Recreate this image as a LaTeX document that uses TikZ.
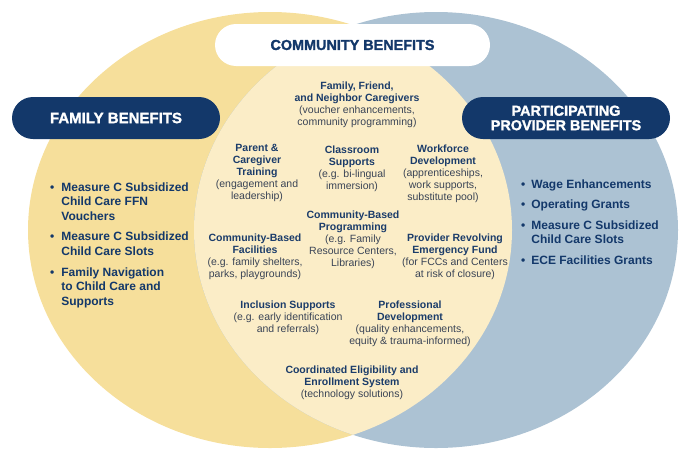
\documentclass[tikz,border=0pt]{standalone}
\usepackage{fontspec}
\setmainfont{Liberation Sans}
\newfontfamily\headfont{Liberation Sans}[BoldFeatures={FakeBold=1.5}]
\usepackage{tikz}
\usetikzlibrary{positioning}
\definecolor{famyellow}{RGB}{246,223,155}
\definecolor{lenscream}{RGB}{251,237,199}
\definecolor{provblue}{RGB}{172,194,211}
\definecolor{mainnavy}{RGB}{19,56,106}
\definecolor{textnavy}{RGB}{27,60,106}
\definecolor{notegray}{RGB}{58,68,86}
\newcommand{\subnote}{\mdseries\color{notegray}}
\tikzset{
  headbox/.style={fill=mainnavy,text=white,rounded corners=21pt,minimum width=208pt,minimum height=42pt,
    align=center,inner sep=0pt,font=\headfont\bfseries\fontsize{14.4}{14.5}\selectfont},
  commbox/.style={headbox,fill=white,text=mainnavy,minimum width=275pt},
  item/.style={align=center,inner sep=0pt,text=textnavy,font=\fontsize{10.5}{12}\selectfont\bfseries},
  bulletlist/.style={anchor=base west,inner sep=0pt,text=mainnavy,font=\fontsize{12}{14.6}\selectfont\bfseries}
}

\begin{document}
\begin{tikzpicture}[x=1pt,y=-1pt]
  \useasboundingbox (0,0) rectangle (695,458);
  \fill[famyellow] (270,230) ellipse [x radius=242pt,y radius=218pt];
  \fill[provblue] (436,230) ellipse [x radius=242pt,y radius=218pt];
  \begin{scope}
    \clip (270,230) ellipse [x radius=242pt,y radius=218pt];
    \fill[lenscream] (436,230) ellipse [x radius=242pt,y radius=218pt];
  \end{scope}

  \node[commbox] (community) at (352.5,45) {COMMUNITY BENEFITS};
  \node[headbox,font=\headfont\bfseries\fontsize{15}{15}\selectfont] (family) at (116,118) {FAMILY BENEFITS};
  \node[headbox] (provider) at (566,118) {PARTICIPATING\\PROVIDER BENEFITS};

  \node[bulletlist] (famlist) at (50,191) {\begin{tabular}[t]{@{}l@{\hspace{7pt}}l@{}}
    • & Measure C Subsidized\\
      & Child Care FFN\\
      & Vouchers\\[6pt]
    • & Measure C Subsidized\\
      & Child Care Slots\\[6pt]
    • & Family Navigation\\
      & to Child Care and\\
      & Supports
  \end{tabular}};
  \node[bulletlist] (provlist) at (521,188) {\begin{tabular}[t]{@{}l@{\hspace{6pt}}l@{}}
    • & Wage Enhancements\\[6pt]
    • & Operating Grants\\[6pt]
    • & Measure C Subsidized\\
      & Child Care Slots\\[6pt]
    • & ECE Facilities Grants
  \end{tabular}};

  \node[item] (ffn) at (357,105) {Family, Friend,\\and Neighbor Caregivers\\\subnote(voucher enhancements,\\\subnote community programming)};
  \node[item] (parent) at (257,172.5) {Parent \&\\Caregiver\\Training\\\subnote(engagement and\\\subnote leadership)};
  \node[item] (classroom) at (352,168.5) {Classroom\\Supports\\\subnote(e.g. bi-lingual\\\subnote immersion)};
  \node[item] (workforce) at (443,173.5) {Workforce\\Development\\\subnote(apprenticeships,\\\subnote work supports,\\\subnote substitute pool)};
  \node[item] (cbprog) at (353,240) {Community-Based\\Programming\\\subnote(e.g. Family\\\subnote Resource Centers,\\\subnote Libraries)};
  \node[item] (cbfac) at (255,257) {Community-Based\\Facilities\\\subnote(e.g. family shelters,\\\subnote parks, playgrounds)};
  \node[item] (revolving) at (455,257) {Provider Revolving\\Emergency Fund\\\subnote(for FCCs and Centers\\\subnote at risk of closure)};
  \node[item] (inclusion) at (288,318) {Inclusion Supports\\\subnote(e.g. early identification\\\subnote and referrals)};
  \node[item] (profdev) at (410,324) {Professional\\Development\\\subnote(quality enhancements,\\\subnote equity \& trauma-informed)};
  \node[item] (coord) at (352,382.5) {Coordinated Eligibility and\\Enrollment System\\\subnote(technology solutions)};
\end{tikzpicture}
\end{document}
